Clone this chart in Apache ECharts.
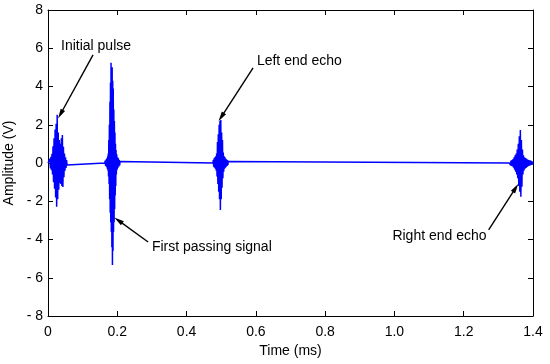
<!DOCTYPE html>
<html><head><meta charset="utf-8">
<script src="https://cdn.jsdelivr.net/npm/echarts@6/dist/echarts.min.js"></script>
<style>html,body{margin:0;padding:0;background:#fff}#c{width:550px;height:364px}</style>
</head><body><div id="c"></div>
<script>
// ---- data (time in ms, amplitude in V) ----
const xTickValues = [0, 0.2, 0.4, 0.6, 0.8, 1.0, 1.2, 1.4];
const yTickValues = [-8, -6, -4, -2, 0, 2, 4, 6, 8];

const initialPulse = [
  [0.0040,0],[0.0055,0.22],[0.0070,-0.28],[0.0085,0.32],[0.0100,-0.38],[0.0115,0.48],
  [0.0130,-0.6],[0.0145,0.88],[0.0160,-1.0],[0.0175,1.3],[0.0190,-1.35],[0.0205,1.75],
  [0.0220,-1.8],[0.0235,2.05],[0.0250,-2.29],[0.0265,2.52],[0.0280,-1.9],[0.0295,1.6],
  [0.0310,-1.4],[0.0325,1.2],[0.0340,-1.05],[0.0355,1.0],[0.0370,-1.1],[0.0385,1.3],
  [0.0400,-1.2],[0.0415,1.47],[0.0430,-1.26],[0.0445,0.85],[0.0460,-0.75],[0.0475,0.5],
  [0.0490,-0.4],[0.0505,0.3],[0.0520,-0.26],[0.0535,0.15],[0.0550,-0.1],[0.0565,0]
];
const firstPassing = [
  [0.1640,0],[0.1652,0.12],[0.1664,-0.15],[0.1676,0.18],[0.1688,-0.2],[0.1700,0.25],
  [0.1712,-0.3],[0.1724,0.35],[0.1732,-0.4],[0.1740,0.5],[0.1748,-0.7],[0.1756,1.2],
  [0.1764,-1.1],[0.1772,2.0],[0.1780,-1.9],[0.1788,3.2],[0.1796,-2.6],[0.1804,4.2],
  [0.1812,-3.1],[0.1820,5.24],[0.1828,-3.6],[0.1836,4.6],[0.1844,-4.4],[0.1852,5.0],
  [0.1860,-5.33],[0.1868,4.3],[0.1876,-4.6],[0.1884,3.9],[0.1892,-3.6],[0.1900,2.8],
  [0.1908,-3.1],[0.1916,2.2],[0.1924,-2.4],[0.1932,1.6],[0.1940,-1.7],[0.1948,1.0],
  [0.1956,-1.2],[0.1964,0.68],[0.1972,-0.6],[0.1984,0.45],[0.1996,-0.35],[0.2008,0.3],
  [0.2020,-0.25],[0.2032,0.25],[0.2044,-0.18],[0.2056,0.15],[0.2068,-0.12],[0.2080,0.08],
  [0.2092,0]
];
const leftEcho = [
  [0.4760,0],[0.4772,0.15],[0.4784,-0.2],[0.4796,0.25],[0.4808,-0.25],[0.4820,0.3],
  [0.4832,-0.3],[0.4844,0.35],[0.4856,-0.4],[0.4868,0.5],[0.4880,-0.7],[0.4892,1.1],
  [0.4904,-1.1],[0.4916,1.5],[0.4928,-1.5],[0.4940,2.0],[0.4952,-1.9],[0.4964,2.2],
  [0.4976,-2.46],[0.4988,2.25],[0.5000,-1.9],[0.5012,1.6],[0.5024,-1.3],[0.5036,1.2],
  [0.5048,-0.8],[0.5060,0.55],[0.5072,-0.45],[0.5084,0.35],[0.5096,-0.3],[0.5108,0.3],
  [0.5120,-0.25],[0.5132,0.22],[0.5144,-0.2],[0.5156,0.18],[0.5168,-0.15],[0.5180,0.15],
  [0.5192,-0.1],[0.5204,0.08],[0.5216,0]
];
const rightEcho = [
  [1.3320,0],[1.3335,0.1],[1.3350,-0.12],[1.3365,0.12],[1.3380,-0.15],[1.3395,0.15],
  [1.3410,-0.18],[1.3425,0.2],[1.3440,-0.25],[1.3455,0.3],[1.3470,-0.35],[1.3485,0.4],
  [1.3500,-0.45],[1.3515,0.5],[1.3530,-0.6],[1.3545,0.7],[1.3560,-0.8],[1.3575,1.0],
  [1.3590,-1.2],[1.3605,1.4],[1.3620,-1.5],[1.3635,1.73],[1.3650,-1.76],[1.3665,1.2],
  [1.3680,-1.24],[1.3695,0.7],[1.3710,-0.6],[1.3725,0.4],[1.3740,-0.4],[1.3755,0.3],
  [1.3770,-0.3],[1.3785,0.26],[1.3800,-0.26],[1.3815,0.22],[1.3830,-0.2],[1.3845,0.18],
  [1.3860,-0.16],[1.3875,0.15],[1.3890,-0.14],[1.3905,0.14],[1.3920,-0.12],[1.3935,0.12],
  [1.3950,-0.1],[1.3965,0.1],[1.3980,-0.08],[1.3995,0.05]
];
const signalStart = [[0, 0]];
const signalEnd = [[1.4, 0]];

// annotations: text, text anchor [t, v], text align, arrow tail [t, v], arrow head [t, v]
const annTexts   = ['Initial pulse', 'First passing signal', 'Left end echo', 'Right end echo'];
const annTextPos = [[0.0375, 6.12], [0.300, -4.39], [0.603, 5.33], [1.266, -3.82]];
const annAlign   = ['left', 'left', 'left', 'right'];
const annTail    = [[0.130, 5.65], [0.289, -4.13], [0.592, 4.97], [1.272, -3.5]];
const annHead    = [[0.036, 2.55], [0.203, -3.0], [0.500, 2.4], [1.350, -1.3]];

// ---- chart ----
const FONT = '"Liberation Sans", Arial, sans-serif';
const signal = [].concat(signalStart, initialPulse, firstPassing, leftEcho, rightEcho, signalEnd);
const chart = echarts.init(document.getElementById('c'), null, {renderer: 'canvas'});

const axisLine = {show: true, onZero: false, lineStyle: {color: '#000', width: 1}};
const tick = {show: true, inside: true, length: 5, lineStyle: {color: '#000', width: 1}};

const markData = annTail.map((t, i) => [{coord: t}, {coord: annHead[i]}]);

chart.setOption({
  animation: false,
  backgroundColor: '#fff',
  grid: {left: 48, right: 17, top: 10, bottom: 48, containLabel: false, outerBoundsMode: 'none'},
  xAxis: [{
    type: 'value', min: 0, max: 1.4, interval: 0.2, position: 'bottom',
    axisLine, axisTick: tick, splitLine: {show: false},
    axisLabel: {color: '#000', fontFamily: FONT, fontSize: 14, margin: 9,
      formatter: v => v === 0 ? '0' : v.toFixed(1)},
    name: 'Time (ms)', nameLocation: 'middle', nameGap: 26,
    nameTextStyle: {color: '#000', fontFamily: FONT, fontSize: 14}
  }, {
    type: 'value', min: 0, max: 1.4, interval: 0.2, position: 'top',
    axisLine, axisTick: tick, splitLine: {show: false}, axisLabel: {show: false}
  }],
  yAxis: [{
    type: 'value', min: -8, max: 8, interval: 2, position: 'left',
    axisLine, axisTick: tick, splitLine: {show: false},
    axisLabel: {color: '#000', fontFamily: FONT, fontSize: 14, margin: 5,
      formatter: v => v < 0 ? '- ' + (-v) : String(v)},
    name: 'Amplitude (V)', nameLocation: 'middle', nameGap: 21,
    nameTextStyle: {color: '#000', fontFamily: FONT, fontSize: 14}
  }, {
    type: 'value', min: -8, max: 8, interval: 2, position: 'right',
    axisLine, axisTick: tick, splitLine: {show: false}, axisLabel: {show: false}
  }],
  series: [{
    type: 'line', data: signal, xAxisIndex: 0, yAxisIndex: 0,
    showSymbol: false, symbol: 'none', sampling: null, smooth: false,
    lineStyle: {color: '#0000ff', width: 1.5},
    markLine: {
      silent: true, symbol: ['none', 'triangle'], symbolSize: [5, 10],
      lineStyle: {color: '#000', width: 1.4, type: 'solid'},
      label: {show: false}, data: markData
    }
  }]
});

const texts = annTexts.map((txt, i) => {
  const p = chart.convertToPixel({xAxisIndex: 0, yAxisIndex: 0}, annTextPos[i]);
  return {type: 'text', x: p[0], y: p[1], silent: true,
    style: {text: txt, fill: '#000', font: '14px ' + FONT, textAlign: annAlign[i], textVerticalAlign: 'middle'}};
});
chart.setOption({graphic: texts});
</script></body></html>
